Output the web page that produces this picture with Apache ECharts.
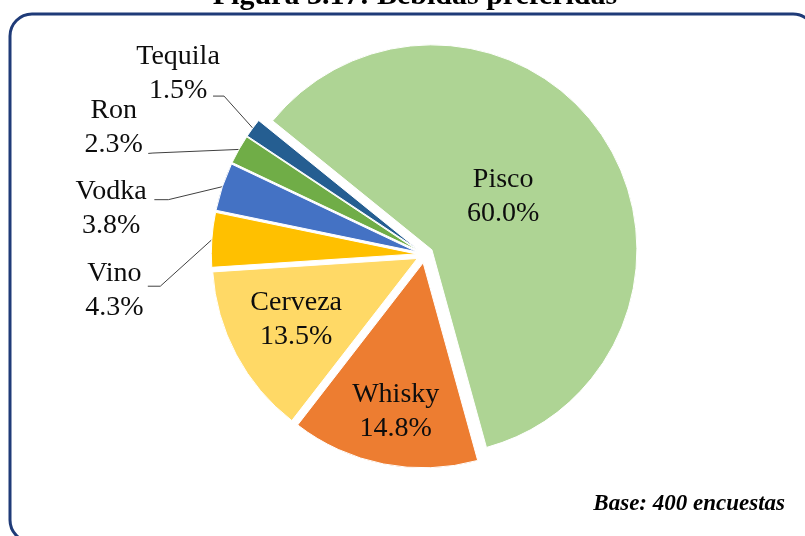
<!DOCTYPE html>
<html>
<head>
<meta charset="utf-8">
<script src="https://cdn.jsdelivr.net/npm/echarts@6/dist/echarts.min.js"></script>
<style>
  html, body { margin: 0; padding: 0; background: #ffffff; }
  #chart { width: 805px; height: 536px; }
</style>
</head>
<body>
<div id="chart"></div>
<script>
// ---- data ----
const categories = ['Pisco', 'Whisky', 'Cerveza', 'Vino', 'Vodka', 'Ron', 'Tequila'];
const shares = [60.0, 14.8, 13.5, 4.3, 3.8, 2.3, 1.5];
const titleText = 'Figura 3.17: Bebidas preferidas';
const noteText = 'Base: 400 encuestas';

// ---- style ----
const sliceColors = ['#AED494', '#ED7D31', '#FFD966', '#FFC000', '#4472C4', '#70AD47', '#255E91'];
const insideNames = ['Pisco', 'Whisky', 'Cerveza'];
// shift of inside labels from their default position (px)
const insideShift = { Pisco: [-17, 5], Whisky: [-7, 45], Cerveza: [-28, 12] };
// outside labels: label centre, leader end and knee relative to the slice-edge anchor (px)
const outsidePlace = {
  Vino:    { c: [-97.5, 51.3],  end: [-64, 46.5],  knee: [-51.5, 46.5] },
  Vodka:   { c: [-111.3, 22.4], end: [-68, 13],    knee: [-54, 13] },
  Ron:     { c: [-125.2, -21.5], end: [-90.7, 4],  knee: [-86, 3.6] },
  Tequila: { c: [-74.7, -54.5], end: [-39.7, -32], knee: [-28.7, -32] }
};
const serif = '"Liberation Serif", "Times New Roman", serif';

const chart = echarts.init(document.getElementById('chart'), null, { renderer: 'canvas' });

const data = categories.map((name, i) => {
  const inside = insideNames.indexOf(name) >= 0;
  return {
    name: name,
    value: shares[i],
    selected: true,
    itemStyle: { color: sliceColors[i] },
    label: { position: inside ? 'inside' : 'outside' },
    labelLine: { show: !inside }
  };
});

chart.setOption({
  animation: false,
  graphic: [
    {
      type: 'rect',
      shape: { x: 10, y: 14, width: 805, height: 528, r: 22 },
      style: { fill: 'none', stroke: '#1F3B78', lineWidth: 3 },
      z: 1
    },
    {
      type: 'text',
      x: 415, y: -3.5,
      style: { text: titleText, font: 'bold 30px ' + serif, fill: '#000', align: 'center', verticalAlign: 'middle' },
      z: 2
    },
    {
      type: 'text',
      x: 785, y: 504,
      style: { text: noteText, font: 'italic bold 23px ' + serif, fill: '#000', align: 'right', verticalAlign: 'middle' },
      z: 2
    }
  ],
  series: [{
    type: 'pie',
    center: [424.8, 254.5],
    radius: 205,
    startAngle: 141,
    clockwise: true,
    selectedMode: 'multiple',
    selectedOffset: 8.5,
    avoidLabelOverlap: false,
    emphasis: { disabled: true },
    itemStyle: { borderColor: '#ffffff', borderWidth: 1 },
    label: {
      fontFamily: serif,
      fontSize: 28,
      lineHeight: 34,
      color: '#0d0d0d',
      align: 'center',
      formatter: p => p.name + '\n' + p.value.toFixed(1) + '%'
    },
    labelLine: { length: 10, length2: 10, lineStyle: { color: '#404040', width: 1 } },
    labelLayout: function (p) {
      const name = categories[p.dataIndex];
      const r = p.labelRect;
      if (insideShift[name]) {
        return { dx: insideShift[name][0], dy: insideShift[name][1] };
      }
      const cfg = outsidePlace[name];
      const a = p.labelLinePoints[0];
      const anchorX = r.x + r.width;
      const anchorY = r.y + r.height / 2;
      return {
        dx: a[0] + cfg.c[0] - anchorX,
        dy: a[1] + cfg.c[1] - anchorY,
        align: 'center',
        verticalAlign: 'middle',
        labelLinePoints: [
          [a[0], a[1]],
          [a[0] + cfg.knee[0], a[1] + cfg.knee[1]],
          [a[0] + cfg.end[0], a[1] + cfg.end[1]]
        ]
      };
    },
    data: data
  }]
});
</script>
</body>
</html>
